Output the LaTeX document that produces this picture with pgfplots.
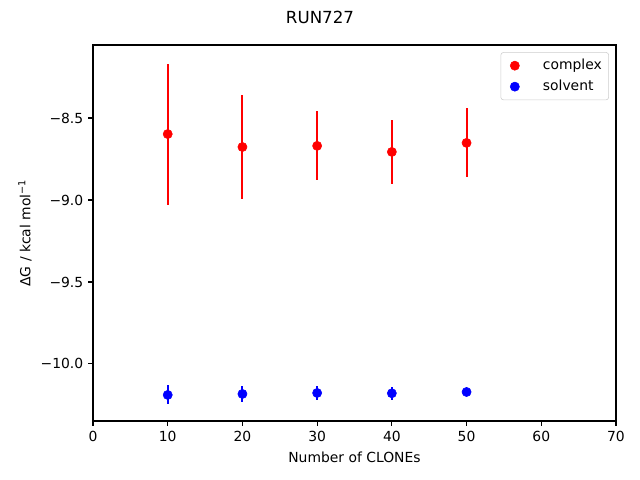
\documentclass[border=0pt]{standalone}
\usepackage{fontspec}
\setmainfont{DejaVu Sans}
\usepackage{pgfplots}
\pgfplotsset{compat=1.18}
\pgfplotsset{mylegend/.style={legend image code/.code={\path[draw=none] (0cm,0cm) -- (0.89cm,0cm); \draw[##1] plot[only marks] coordinates {(0.25cm,0cm)};}}}
\begin{document}
\begin{tikzpicture}[x=0.72pt,y=0.72pt]
\path (0,0) rectangle (640,480);
\begin{axis}[
  at={(66.96pt,42.48pt)}, anchor=south west,
  scale only axis, width=376.56pt, height=270.72pt,
  xmin=0, xmax=70, ymin=-10.348, ymax=-8.055,
  xtick={0,10,20,30,40,50,60,70},
  ytick={-10,-9.5,-9,-8.5},
  yticklabels={−10.0,−9.5,−9.0,−8.5},
  tick align=outside, major tick length=3.5pt,
  tick style={line width=0.8pt, black},
  axis line style={line width=0.8pt},
  xtick pos=bottom, ytick pos=left,
  tick label style={font=\fontsize{10}{12}\selectfont},
  /pgf/number format/assume math mode=true,
  legend style={at={(0.9866,0.981)}, anchor=north east, draw=black!20, rounded corners=2pt,
    font=\fontsize{10}{12}\selectfont, row sep=2pt, inner sep=3pt,
    nodes={inner sep=2pt}},
  legend cell align=left,
]
\addplot[only marks, mark=*, mark size=3.3pt, color=red, mylegend,
  error bars/.cd, y dir=both, y explicit, error mark=none,
  error bar style={line width=1.5pt, red}]
  table[x=x, y=y, y error=e] {
x y e
10 -8.598 0.43
20 -8.677 0.32
30 -8.670 0.21
40 -8.707 0.195
50 -8.652 0.21
};
\addlegendentry{complex}
\addplot[only marks, mark=*, mark size=3.3pt, color=blue, mylegend,
  error bars/.cd, y dir=both, y explicit, error mark=none,
  error bar style={line width=1.5pt, blue}]
  table[x=x, y=y, y error=e] {
x y e
10 -10.189 0.058
20 -10.183 0.047
30 -10.177 0.040
40 -10.179 0.040
50 -10.171 0.025
};
\addlegendentry{solvent}
\end{axis}
\node[font=\fontsize{12}{14}\selectfont] at (320,463) {RUN727};
\node[font=\fontsize{10}{12}\selectfont] at (354.5,23) {Number of CLONEs};
\node[font=\fontsize{10}{12}\selectfont, rotate=90] at (25,247) {ΔG / kcal mol\textsuperscript{−1}};
\end{tikzpicture}
\end{document}
